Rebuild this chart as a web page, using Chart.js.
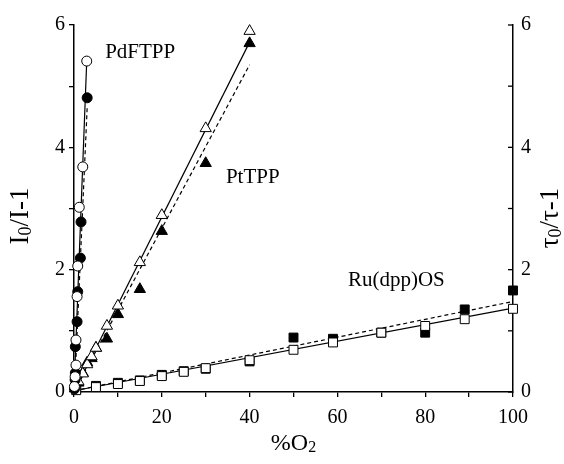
<!DOCTYPE html>
<html>
<head>
<meta charset="utf-8">
<script src="https://cdn.jsdelivr.net/npm/chart.js@4/dist/chart.umd.min.js"></script>
<style>
  html, body { margin: 0; padding: 0; background: #fff; }
  #wrap { width: 564px; height: 464px; }
</style>
</head>
<body>
<div id="wrap"><canvas id="c" width="564" height="464"></canvas></div>
<script>
// ---------- data ----------
// PdFTPP: open circles = I0/I-1, filled circles = tau0/tau-1
const pdOpenX   = [0.1, 0.25, 0.45, 0.45, 0.7, 0.85, 1.2, 2.0, 2.9];
const pdOpenY   = [0.09, 0.25, 0.44, 0.85, 1.56, 2.06, 3.02, 3.68, 5.41];
const pdFilledX = [0.1, 0.25, 0.3, 0.3, 0.7, 0.85, 1.45, 1.6, 3.0];
const pdFilledY = [0.05, 0.2, 0.31, 0.74, 1.15, 1.64, 2.19, 2.78, 4.81];
// PtTPP: open triangles = I0/I-1, filled triangles = tau0/tau-1
const ptOpenX   = [1, 2, 3, 4, 5, 7.5, 10, 15, 20, 30, 40];
const ptOpenY   = [0.17, 0.3, 0.45, 0.58, 0.72, 1.08, 1.41, 2.12, 2.89, 4.31, 5.9];
const ptFilledX = [1, 2, 3, 4, 5, 7.5, 10, 15, 20, 30, 40];
const ptFilledY = [0.15, 0.31, 0.48, 0.55, 0.72, 0.87, 1.27, 1.68, 2.63, 3.74, 5.7];
// Ru(dpp)OS: open squares = I0/I-1, filled squares = tau0/tau-1
const ruOpenX   = [0.5, 5, 10, 15, 20, 25, 30, 40, 50, 59, 70, 80, 89, 100];
const ruOpenY   = [0.03, 0.08, 0.13, 0.18, 0.26, 0.33, 0.39, 0.52, 0.69, 0.81, 0.97, 1.08, 1.19, 1.36];
const ruFilledX = [0.5, 5, 10, 15, 20, 25, 30, 40, 50, 59, 70, 80, 89, 100];
const ruFilledY = [0.05, 0.1, 0.15, 0.19, 0.28, 0.34, 0.38, 0.5, 0.89, 0.87, 0.97, 0.97, 1.35, 1.66];
// linear fits (end points): solid = intensity, dashed = lifetime
const pdFitSolidX = [0, 2.9],  pdFitSolidY = [0, 5.41];
const pdFitDashX  = [0.1, 3.0], pdFitDashY = [0, 4.65];
const ptFitSolidX = [0, 40],   ptFitSolidY = [0, 5.72];
const ptFitDashX  = [0, 40],   ptFitDashY  = [0, 5.35];
const ruFitSolidX = [0, 100],  ruFitSolidY = [0.02, 1.37];
const ruFitDashX  = [0, 100],  ruFitDashY  = [0.02, 1.48];
// axis ticks
const xTickLabels = [0, 20, 40, 60, 80, 100];
const yTickLabels = [0, 2, 4, 6];
// series labels
const seriesNames = ['PdFTPP', 'PtTPP', 'Ru(dpp)OS'];
const seriesLabelPos = [[7.1, 5.55], [34.6, 3.5], [62.4, 1.83]];

// ---------- helpers ----------
const zip = (xs, ys) => xs.map((x, i) => ({x: x, y: ys[i]}));
const FONT = "'Liberation Serif', 'Times New Roman', serif";

function markers(label, xs, ys, style, filled, r, axis) {
  return {
    label: label, data: zip(xs, ys), yAxisID: axis,
    pointStyle: style, pointRadius: r, pointHoverRadius: r,
    pointBackgroundColor: filled ? '#000' : '#fff',
    pointBorderColor: '#000', pointBorderWidth: 1,
    showLine: false, clip: false, order: 1
  };
}
function fit(label, xs, ys, dashed, axis) {
  return {
    label: label, data: zip(xs, ys), yAxisID: axis,
    showLine: true, pointRadius: 0, borderColor: '#000',
    borderWidth: 1.2, borderDash: dashed ? [4, 3] : [],
    fill: false, clip: false, order: 2
  };
}

// ---------- plugin: axis titles with subscripts, series labels, inward right ticks ----------
function drawParts(ctx, parts, cx, cy, angle, size) {
  ctx.save();
  ctx.translate(cx, cy);
  ctx.rotate(angle);
  ctx.fillStyle = '#000';
  ctx.textBaseline = 'alphabetic';
  let total = 0;
  parts.forEach(p => {
    ctx.font = (p.sub ? Math.round(size * 0.65) : size) + 'px ' + FONT;
    p.w = ctx.measureText(p.t).width;
    total += p.w;
  });
  let x = -total / 2;
  parts.forEach(p => {
    ctx.font = (p.sub ? Math.round(size * 0.65) : size) + 'px ' + FONT;
    ctx.fillText(p.t, x, p.sub ? size * 0.62 * 0.5 + size * 0.12 : size * 0.35);
    x += p.w;
  });
  ctx.restore();
}

const extras = {
  id: 'extras',
  afterDraw(chart) {
    const ctx = chart.ctx;
    const xs = chart.scales.x, ys = chart.scales.y, y2 = chart.scales.y2;
    const area = chart.chartArea;
    // inward ticks for the right axis
    ctx.save();
    ctx.strokeStyle = '#000';
    ctx.lineWidth = 1.3;
    y2.ticks.forEach(t => {
      const py = y2.getPixelForValue(t.value);
      ctx.beginPath();
      ctx.moveTo(area.right - 5, py);
      ctx.lineTo(area.right, py);
      ctx.stroke();
    });
    ctx.restore();
    // series labels
    ctx.save();
    ctx.fillStyle = '#000';
    ctx.font = '21px ' + FONT;
    ctx.textBaseline = 'middle';
    seriesNames.forEach((n, i) => {
      ctx.fillText(n, xs.getPixelForValue(seriesLabelPos[i][0]), ys.getPixelForValue(seriesLabelPos[i][1]));
    });
    ctx.restore();
    // axis titles
    const cxArea = (area.left + area.right) / 2;
    drawParts(ctx, [{t: '%O'}, {t: '2', sub: true}], cxArea, 442, 0, 24);
    drawParts(ctx, [{t: 'I'}, {t: '0', sub: true}, {t: '/I-1'}], 19, 216, -Math.PI / 2, 27);
    drawParts(ctx, [{t: 'τ'}, {t: '0', sub: true}, {t: '/τ-1'}], 549, 218, -Math.PI / 2, 27);
  }
};

const axisCommon = {
  border: { display: true, color: '#000', width: 1.5 },
  grid: { drawOnChartArea: false, drawTicks: true, tickLength: 5, color: '#000', lineWidth: 1.3 },
};

new Chart(document.getElementById('c'), {
  type: 'scatter',
  data: {
    datasets: [
      fit('PdFTPP I fit', pdFitSolidX, pdFitSolidY, false, 'y'),
      fit('PdFTPP tau fit', pdFitDashX, pdFitDashY, true, 'y2'),
      fit('PtTPP I fit', ptFitSolidX, ptFitSolidY, false, 'y'),
      fit('PtTPP tau fit', ptFitDashX, ptFitDashY, true, 'y2'),
      fit('Ru I fit', ruFitSolidX, ruFitSolidY, false, 'y'),
      fit('Ru tau fit', ruFitDashX, ruFitDashY, true, 'y2'),
      markers('PdFTPP I0/I-1', pdOpenX, pdOpenY, 'circle', false, 5, 'y'),
      markers('PdFTPP tau0/tau-1', pdFilledX, pdFilledY, 'circle', true, 5, 'y2'),
      markers('PtTPP I0/I-1', ptOpenX, ptOpenY, 'triangle', false, 6.5, 'y'),
      markers('PtTPP tau0/tau-1', ptFilledX, ptFilledY, 'triangle', true, 6.5, 'y2'),
      markers('Ru(dpp)OS I0/I-1', ruOpenX, ruOpenY, 'rect', false, 6.3, 'y'),
      markers('Ru(dpp)OS tau0/tau-1', ruFilledX, ruFilledY, 'rect', true, 6.3, 'y2'),
    ]
  },
  options: {
    responsive: false,
    animation: false,
    events: [],
    layout: { padding: { top: 25, left: 0, right: 0, bottom: 0 } },
    plugins: { legend: { display: false }, tooltip: { enabled: false } },
    scales: {
      x: Object.assign({}, axisCommon, {
        type: 'linear', min: 0, max: 100,
        ticks: {
          stepSize: 10, autoSkip: false, maxRotation: 0, padding: 9, color: '#000',
          font: { family: FONT, size: 20 },
          callback: v => xTickLabels.includes(v) ? String(v) : ''
        },
        afterFit: s => { s.height = 72; }
      }),
      y: Object.assign({}, axisCommon, {
        type: 'linear', position: 'left', min: 0, max: 6,
        ticks: {
          stepSize: 1, autoSkip: false, padding: 4, color: '#000',
          font: { family: FONT, size: 20 },
          callback: v => yTickLabels.includes(v) ? String(v) : ''
        },
        afterFit: s => { s.width = 74; }
      }),
      y2: {
        type: 'linear', position: 'right', min: 0, max: 6,
        border: { display: true, color: '#000', width: 1.5 },
        grid: { drawOnChartArea: false, drawTicks: false },
        ticks: {
          stepSize: 1, autoSkip: false, padding: 8, color: '#000',
          font: { family: FONT, size: 20 },
          callback: v => yTickLabels.includes(v) ? String(v) : ''
        },
        afterFit: s => { s.width = 51; }
      }
    }
  },
  plugins: [extras]
});
</script>
</body>
</html>
